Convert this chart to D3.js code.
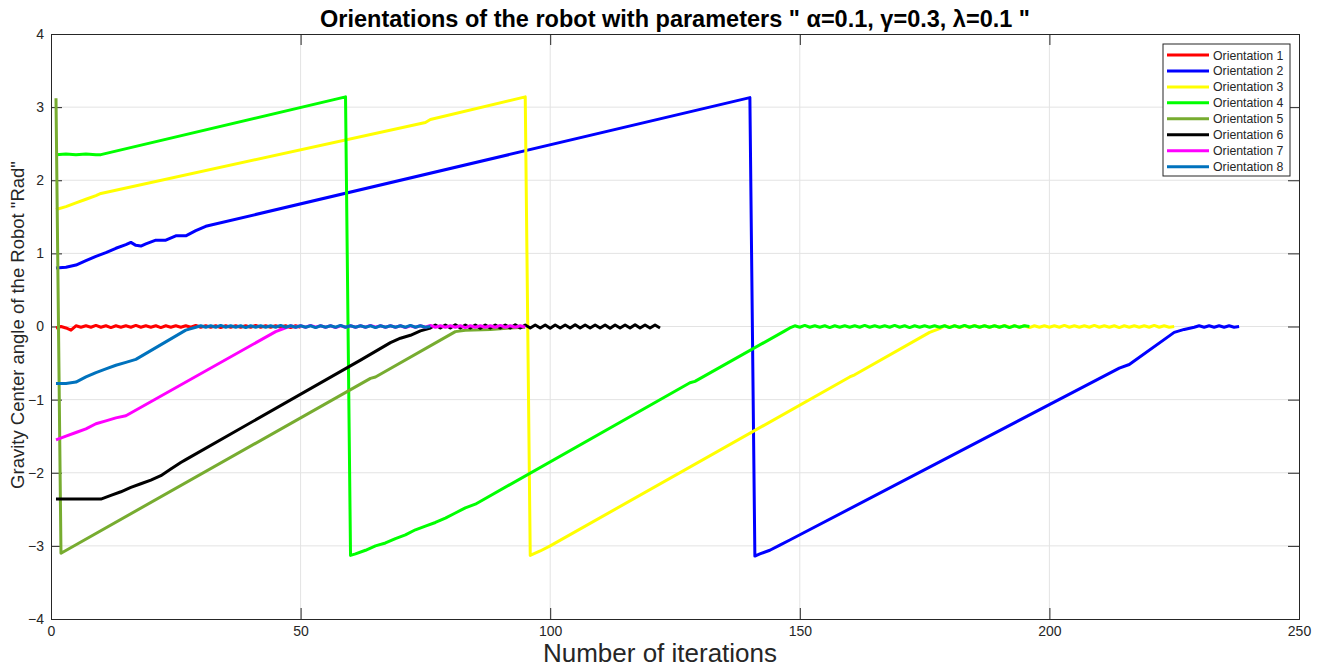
<!DOCTYPE html>
<html>
<head>
<meta charset="utf-8">
<script src="https://cdn.jsdelivr.net/npm/d3@7"></script>
<style>
body { margin:0; background:#fff; }
text { font-family: "Liberation Sans", Arial, sans-serif; fill:#262626; }
</style>
</head>
<body>
<svg id="chart" width="1322" height="667"></svg>
<script>
var names = ["Orientation 1","Orientation 2","Orientation 3","Orientation 4","Orientation 5","Orientation 6","Orientation 7","Orientation 8"]
var colors = ["#ff0000","#0000ff","#ffff00","#00ff00","#77ac30","#000000","#ff00ff","#0072bd"]
var xTicks = [0,50,100,150,200,250]
var yTicks = [-4,-3,-2,-1,0,1,2,3,4]

// [iteration, angle]
var o1 = [[1,-0.02],[2,0],[3,-0.02],[4,-0.05],[5,0.01]]
var o2 = [[1,0.80],[3,0.81],[5,0.84],[7,0.9],[9,0.96],[11,1.01],[13,1.07],[15,1.12],[16,1.15],[17,1.11],[18,1.10],[19,1.13],[21,1.18],[23,1.18],[25,1.24],[27,1.24],[29,1.31],[31,1.37],[140,3.13],[141,-3.14],[142,-3.11],[144,-3.06],[146,-2.99],[148,-2.92],[214,-0.57],[216,-0.52],[225,-0.08],[227,-0.04],[229,-0.01]]
var o3 = [[1,1.60],[3,1.64],[5,1.69],[7,1.74],[9,1.79],[10,1.82],[75,2.79],[76,2.83],[95,3.14],[96,-3.13],[98,-3.07],[100,-3.0],[160,-0.69],[161,-0.66],[176,-0.08],[178,-0.03]]
var o4 = [[1,2.35],[3,2.36],[5,2.35],[7,2.36],[9,2.35],[10,2.35],[59,3.14],[60,-3.13],[61,-3.11],[63,-3.06],[65,-3.0],[67,-2.96],[69,-2.9],[71,-2.85],[73,-2.78],[75,-2.73],[77,-2.68],[79,-2.62],[81,-2.55],[83,-2.48],[85,-2.43],[128,-0.77],[129,-0.75],[147,-0.06],[148,-0.02]]
var o5 = [[1,3.12],[2,-3.10],[64,-0.71],[65,-0.69],[81,-0.07],[83,-0.05],[88,-0.04],[90,-0.03],[92,-0.02],[95,-0.01]]
var o6 = [[1,-2.36],[10,-2.36],[12,-2.31],[14,-2.26],[16,-2.2],[18,-2.15],[20,-2.1],[22,-2.04],[24,-1.95],[26,-1.86],[27,-1.82],[62,-0.46],[68,-0.22],[70,-0.16],[72,-0.12],[74,-0.06],[76,-0.02]]
var o7 = [[1,-1.55],[3,-1.5],[5,-1.45],[7,-1.4],[9,-1.33],[11,-1.29],[13,-1.25],[15,-1.22],[45,-0.07],[47,-0.02]]
var o8 = [[1,-0.78],[3,-0.78],[5,-0.76],[7,-0.69],[9,-0.63],[11,-0.58],[13,-0.53],[15,-0.49],[17,-0.45],[27,-0.05],[29,-0.01]]

// oscillation around zero once a run has converged, one value per iteration
var tail1Start = 6
var tail1 = [-0.01,0.01,-0.01,0.015,-0.01,0.01,-0.015,0.01,-0.01,0.01,-0.01,0.015,-0.01,0.01,-0.01,0.01,-0.015,0.01,-0.01,0.01,-0.01,0.01,-0.01,0.015,-0.01,0.01,-0.01,0.01,-0.015,0.01,-0.01,0.01,-0.01,0.01,-0.01,0.015,-0.01,0.01,-0.01,0.01,-0.01,0.01,-0.015,0.01,-0.01]
var tail2Start = 230
var tail2 = [0.01,-0.01,0.01,-0.01,0.01,-0.01,0.01,-0.01,0.0]
var tail3Start = 179
var tail3 = [0.01,-0.01,0.01,-0.015,0.01,-0.01,0.015,-0.01,0.01,-0.01,0.01,-0.01,0.015,-0.01,0.01,-0.01,0.01,-0.015,0.01,-0.01,0.01,-0.01,0.01,-0.01,0.015,-0.01,0.01,-0.01,0.01,-0.01,0.015,-0.01,0.01,-0.01,0.01,-0.015,0.01,-0.01,0.01,-0.01,0.01,-0.01,0.015,-0.01,0.01,-0.01,0.0]
var tail4Start = 149
var tail4 = [0.01,-0.01,0.015,-0.01,0.01,-0.01,0.01,-0.015,0.01,-0.01,0.01,-0.01,0.01,-0.01,0.015,-0.01,0.01,-0.01,0.01,-0.01,0.015,-0.01,0.01,-0.015,0.01,-0.01,0.01,-0.01,0.01,-0.01,0.01,-0.015,0.01,-0.01,0.015,-0.01,0.01,-0.01,0.01,-0.01,0.01,-0.01,0.01,-0.015,0.01,-0.01,0.01,0.0]
var tail5Start = 96
var tail5 = []
var tail6Start = 77
var tail6 = [0.02,-0.02,0.02,-0.02,0.025,-0.02,0.02,-0.02,0.02,-0.025,0.02,-0.02,0.02,-0.02,0.02,-0.02,0.025,-0.02,0.02,-0.02,0.02,-0.02,0.02,-0.025,0.02,-0.02,0.02,-0.02,0.025,-0.02,0.02,-0.02,0.02,-0.02,0.02,-0.025,0.02,-0.02,0.02,-0.02,0.025,-0.02,0.02,-0.02,0.02,-0.02]
var tail7Start = 48
var tail7 = [0.01,-0.01,0.01,-0.01,0.015,-0.01,0.01,-0.01,0.01,-0.015,0.01,-0.01,0.01,-0.01,0.01,-0.01,0.015,-0.01,0.01,-0.01,0.01,-0.01,0.01,-0.015,0.01,-0.01,0.01,-0.01,0.015,-0.01,0.01,-0.01,0.01,-0.01,0.01,-0.015,0.01,-0.01,0.01,-0.01,0.01,-0.01,0.015,-0.01,0.01,-0.01,0.01,-0.01]
var tail8Start = 30
var tail8 = [0.01,-0.01,0.01,-0.01,0.015,-0.01,0.01,-0.01,0.01,-0.015,0.01,-0.01,0.01,-0.01,0.01,-0.01,0.015,-0.01,0.01,-0.01,0.01,-0.01,0.01,-0.015,0.01,-0.01,0.01,-0.01,0.015,-0.01,0.01,-0.01,0.01,-0.01,0.01,-0.015,0.01,-0.01,0.01,-0.01,0.01,-0.01,0.015,-0.01,0.01,-0.01,0.0]

var heads = [o1,o2,o3,o4,o5,o6,o7,o8]
var tails = [tail1,tail2,tail3,tail4,tail5,tail6,tail7,tail8]
var tailStarts = [tail1Start,tail2Start,tail3Start,tail4Start,tail5Start,tail6Start,tail7Start,tail8Start]

var series = heads.map(function(h,i){
  return h.concat(tails[i].map(function(v,j){ return [tailStarts[i]+j, v] }))
})

var svg = d3.select("#chart")
var pL = 51, pR = 1299, pT = 34, pB = 619
var x = d3.scaleLinear().domain([0,250]).range([pL,pR])
var y = d3.scaleLinear().domain([-4,4]).range([pB,pT])

// grid
svg.append("g").selectAll("line").data(xTicks.slice(1,-1)).enter().append("line")
  .attr("x1",function(d){return x(d)}).attr("x2",function(d){return x(d)})
  .attr("y1",pT).attr("y2",pB).attr("stroke","#e3e3e3").attr("stroke-width",1)
svg.append("g").selectAll("line").data(yTicks.slice(1,-1)).enter().append("line")
  .attr("y1",function(d){return y(d)}).attr("y2",function(d){return y(d)})
  .attr("x1",pL).attr("x2",pR).attr("stroke","#e3e3e3").attr("stroke-width",1)

// axes, ticks pointing inwards, mirrored on top and right
var tk = 11
svg.append("g").attr("transform","translate(0,"+pB+")")
  .call(d3.axisBottom(x).tickValues(xTicks).tickSize(-tk).tickPadding(7).tickFormat(d3.format("d")))
svg.append("g").attr("transform","translate(0,"+pT+")")
  .call(d3.axisTop(x).tickValues(xTicks).tickSize(-tk).tickFormat(""))
svg.append("g").attr("transform","translate("+pL+",0)")
  .call(d3.axisLeft(y).tickValues(yTicks).tickSize(-tk).tickPadding(7).tickFormat(d3.format("d")))
svg.append("g").attr("transform","translate("+pR+",0)")
  .call(d3.axisRight(y).tickValues(yTicks).tickSize(-tk).tickFormat(""))
svg.selectAll(".domain").attr("stroke","#262626")
svg.selectAll(".tick line").attr("stroke","#262626")
svg.selectAll(".tick text").attr("font-size","14px").attr("fill","#262626")
  .attr("font-family","Liberation Sans, Arial, sans-serif")

var line = d3.line().x(function(d){return x(d[0])}).y(function(d){return y(d[1])})
svg.append("g").selectAll("path").data(series).enter().append("path")
  .attr("d",line).attr("fill","none")
  .attr("stroke",function(d,i){return colors[i]}).attr("stroke-width",3)
  .attr("stroke-linejoin","round")

// legend
var lg = svg.append("g").attr("transform","translate(1163,44)")
lg.append("rect").attr("width",127).attr("height",132).attr("fill","#fff").attr("stroke","#262626").attr("stroke-width",1)
var row = lg.selectAll(".row").data(names).enter().append("g").attr("class","row")
  .attr("transform",function(d,i){return "translate(0,"+(11+i*15.95)+")"})
row.append("line").attr("x1",4).attr("x2",46).attr("stroke",function(d,i){return colors[i]}).attr("stroke-width",3)
row.append("text").text(function(d){return d}).attr("x",50).attr("y",4.5).attr("font-size","12.3px")

svg.append("text").text("Orientations of the robot with parameters \" \u03b1=0.1, \u03b3=0.3, \u03bb=0.1 \"")
  .attr("x",675).attr("y",27).attr("text-anchor","middle").attr("font-size","23.5px").attr("font-weight","bold").style("fill","#000")
svg.append("text").text("Number of iterations")
  .attr("x",660).attr("y",662).attr("text-anchor","middle").attr("font-size","26px")
svg.append("text").text("Gravity Center angle of the Robot \"Rad\"")
  .attr("transform","translate(24,325) rotate(-90)").attr("text-anchor","middle").attr("font-size","18.5px")
</script>
</body>
</html>
